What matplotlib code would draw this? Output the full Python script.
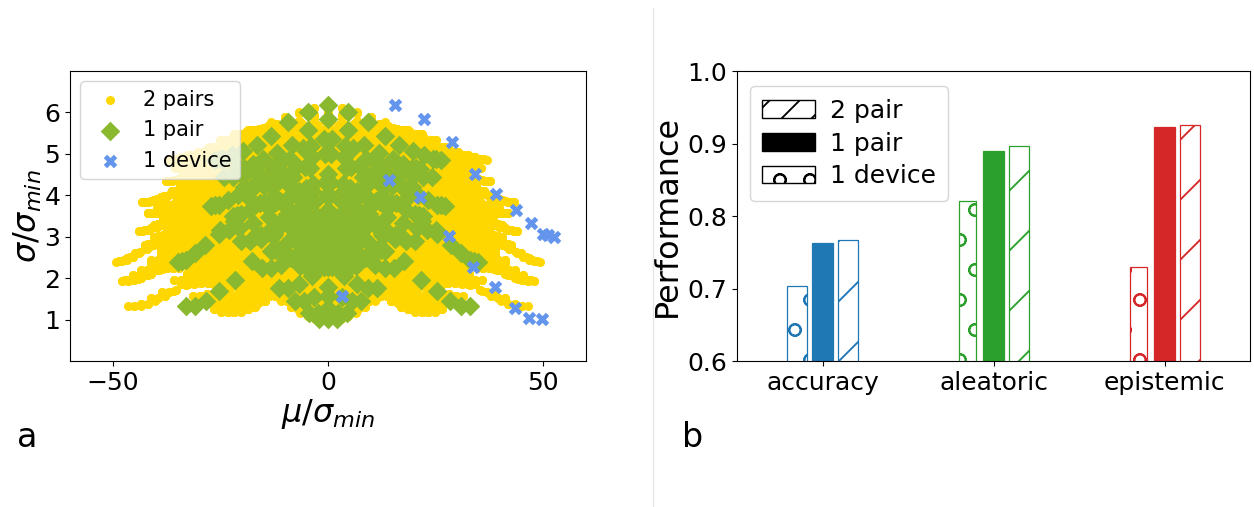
import numpy as np
import matplotlib
matplotlib.use("Agg")
import matplotlib.pyplot as plt
from matplotlib.patches import Patch
from matplotlib.lines import Line2D

# ---------------- data: panel a (single devices) ----------------
mu_dev = [3.2, 14.2, 15.6, 21.3, 22.3, 28.1, 28.9, 33.7, 34.2, 38.9,
          39.1, 43.4, 43.7, 46.8, 47.1, 49.8, 50.0, 51.2, 52.6]
sig_dev = [1.58, 4.36, 6.19, 3.96, 5.84, 3.02, 5.29, 2.28, 4.52, 1.78,
           4.02, 1.28, 3.64, 1.03, 3.32, 1.02, 3.07, 3.03, 2.99]

# ---------------- data: panel b ----------------
categories = ["accuracy", "aleatoric", "epistemic"]
perf_1device = [0.7036, 0.821, 0.730]
perf_1pair = [0.7628, 0.889, 0.923]
perf_2pair = [0.7665, 0.897, 0.926]
cat_colors = ["#1f77b4", "#2ca02c", "#d62728"]
series_labels = ["2 pair", "1 pair", "1 device"]

# pairs of devices (differential combination of every ordered device pair)
mu_d = np.array(mu_dev)
sg_d = np.array(sig_dev)
mu_pair = ((mu_d[:, None] - mu_d[None, :]) / np.sqrt(2)).ravel()
sg_pair = np.sqrt((sg_d[:, None] ** 2 + sg_d[None, :] ** 2) / 2).ravel()
# combinations of two pairs
mu_2pair = ((mu_pair[:, None] + mu_pair[None, :]) / np.sqrt(2)).ravel()
sg_2pair = np.sqrt((sg_pair[:, None] ** 2 + sg_pair[None, :] ** 2) / 2).ravel()

DPI = 180
K = 100 / DPI          # converts "points at 100 dpi" to points at DPI

plt.rcParams.update({
    "xtick.major.size": 3.5 * K, "ytick.major.size": 3.5 * K,
    "xtick.major.width": 0.8 * K, "ytick.major.width": 0.8 * K,
    "xtick.major.pad": 3.5 * K, "ytick.major.pad": 3.5 * K,
    "axes.linewidth": 0.8 * K,
    "patch.linewidth": 1.0 * K,
    "hatch.linewidth": 0.75,
})

fig = plt.figure(figsize=(1254 / DPI, 507 / DPI), dpi=DPI)

# ---------------- panel a ----------------
ax1 = fig.add_axes([70 / 1254, 1 - 361 / 507, 516 / 1254, 290 / 507])
ax1.scatter(mu_2pair, sg_2pair, s=42 * K * K, c="#FFD700", marker="o", linewidths=0,
            label="2 pairs", rasterized=True)
ax1.scatter(mu_pair, sg_pair, s=100 * K * K, c="#8AB82E", marker="D", linewidths=0,
            label="1 pair")
ax1.scatter(mu_dev, sig_dev, s=95 * K * K, c="#6495ED", marker="X", linewidths=0,
            label="1 device")
ax1.set_xlim(-60, 60)
ax1.set_ylim(0, 7)
ax1.set_xticks([-50, 0, 50])
ax1.set_yticks([1, 2, 3, 4, 5, 6])
ax1.tick_params(labelsize=18 * K)
ax1.set_xlabel(r"$\mu/\sigma_{min}$", fontsize=23 * K, labelpad=1)
ax1.set_ylabel(r"$\sigma/\sigma_{min}$", fontsize=23 * K, labelpad=0)
ax1.legend(loc="upper left", fontsize=15 * K, handletextpad=0.6, borderpad=0.4,
           labelspacing=0.5, bbox_to_anchor=(0.0, 1.0))

# ---------------- panel b ----------------
ax2 = fig.add_axes([737 / 1254, 1 - 361 / 507, 513 / 1254, 290 / 507])
x = np.arange(len(categories))
dev_w = [0.12, 0.10, 0.10]
for i in range(len(categories)):
    c = cat_colors[i]
    ax2.bar(x[i] - 0.15, perf_1device[i], width=dev_w[i], facecolor="white",
            edgecolor=c, hatch="o", linewidth=0.9 * K)
    ax2.bar(x[i], perf_1pair[i], width=0.12, facecolor=c, edgecolor=c,
            linewidth=0.9 * K)
    ax2.bar(x[i] + 0.15, perf_2pair[i], width=0.12, facecolor="white",
            edgecolor=c, hatch="/", linewidth=0.9 * K)
ax2.set_ylim(0.6, 1.0)
ax2.set_xlim(-0.5, 2.5)
ax2.set_xticks(x)
ax2.set_xticklabels(categories)
ax2.set_yticks([0.6, 0.7, 0.8, 0.9, 1.0])
ax2.tick_params(labelsize=18 * K)
ax2.set_ylabel("Performance", fontsize=23 * K, labelpad=2)
handles = [Patch(facecolor="white", edgecolor="black", hatch="//"),
           Patch(facecolor="black", edgecolor="black"),
           Patch(facecolor="white", edgecolor="black", hatch="o")]
ax2.legend(handles, series_labels, loc="upper left", fontsize=18 * K,
           handlelength=2.1, handleheight=0.7, handletextpad=0.6,
           borderpad=0.5, labelspacing=0.35, bbox_to_anchor=(0.0, 0.99))

# divider and panel letters
fig.add_artist(Line2D([653 / 1254, 653 / 1254], [0, 0.985], color="#e6e6e6",
                      linewidth=1 * K, transform=fig.transFigure))
fig.text(17 / 1254, 1 - 447 / 507, "a", fontsize=24 * K)
fig.text(682 / 1254, 1 - 447 / 507, "b", fontsize=24 * K)

fig.savefig("out.png", dpi=DPI)
